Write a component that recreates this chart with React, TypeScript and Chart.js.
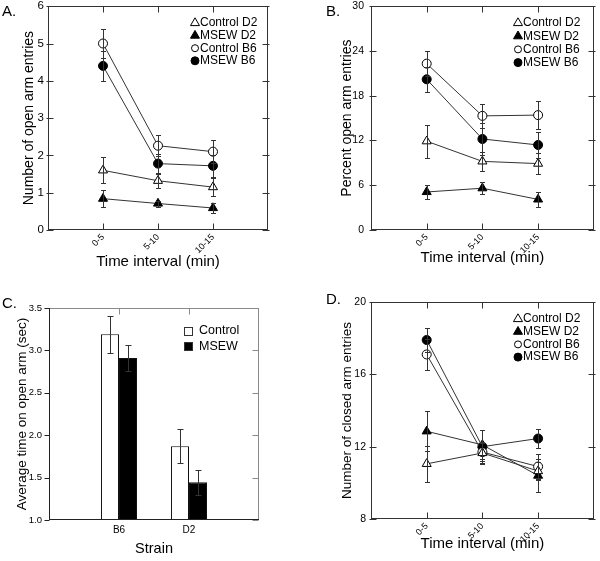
import React, { useEffect, useRef } from 'react';
import { Chart, registerables } from 'chart.js';

Chart.register(...registerables);

const FONT = "'Liberation Sans', Arial, Helvetica, sans-serif";
Chart.defaults.font.family = FONT;
Chart.defaults.color = '#000';

// ---------------- data ----------------
const timeIntervals = ['0-5', '5-10', '10-15'];
const groupLabels = ['Control D2', 'MSEW D2', 'Control B6', 'MSEW B6'];

// A. Number of open arm entries
const openEntriesControlD2 = [1.6, 1.32, 1.15];
const openEntriesMsewD2 = [0.84, 0.71, 0.59];
const openEntriesControlB6 = [5.0, 2.26, 2.1];
const openEntriesMsewB6 = [4.4, 1.78, 1.72];
const openEntriesControlD2Err = [0.35, 0.2, 0.25];
const openEntriesMsewD2Err = [0.22, 0.08, 0.13];
const openEntriesControlB6Err = [0.38, 0.28, 0.31];
const openEntriesMsewB6Err = [0.41, 0.27, 0.3];

// B. Percent open arm entries
const percentOpenControlD2 = [11.9, 9.2, 8.9];
const percentOpenMsewD2 = [5.1, 5.6, 4.1];
const percentOpenControlB6 = [22.3, 15.3, 15.4];
const percentOpenMsewB6 = [20.2, 12.2, 11.4];
const percentOpenControlD2Err = [2.2, 1.3, 1.4];
const percentOpenMsewD2Err = [0.95, 0.8, 1.0];
const percentOpenControlB6Err = [1.7, 1.6, 1.9];
const percentOpenMsewB6Err = [1.65, 2.2, 1.8];

// C. Average time on open arm (sec)
const strains = ['B6', 'D2'];
const treatments = ['Control', 'MSEW'];
const timeOpenControl = [3.19, 1.87];
const timeOpenMsew = [2.91, 1.445];
const timeOpenControlErr = [0.22, 0.2];
const timeOpenMsewErr = [0.15, 0.145];

// D. Number of closed arm entries
const closedEntriesControlD2 = [11.05, 11.65, 10.65];
const closedEntriesMsewD2 = [12.85, 12.1, 10.4];
const closedEntriesControlB6 = [17.1, 11.7, 10.9];
const closedEntriesMsewB6 = [17.9, 12.0, 12.45];
const closedEntriesControlD2Err = [1.0, 0.6, 0.5];
const closedEntriesMsewD2Err = [1.1, 0.8, 0.9];
const closedEntriesControlB6Err = [0.85, 0.5, 0.7];
const closedEntriesMsewB6Err = [0.65, 0.9, 0.5];

// ---------------- styles ----------------
const markerShapes = ['triangle', 'triangle', 'circle', 'circle'];
const markerFills = ['#ffffff', '#000000', '#ffffff', '#000000'];

// ---------------- helpers ----------------
function drawMarker(ctx: CanvasRenderingContext2D, shape: string, x: number, y: number, r: number, fill: string) {
  ctx.beginPath();
  if (shape === 'triangle') {
    ctx.moveTo(x, y - r);
    ctx.lineTo(x + r * 0.866, y + r * 0.5);
    ctx.lineTo(x - r * 0.866, y + r * 0.5);
    ctx.closePath();
  } else {
    ctx.arc(x, y, r, 0, Math.PI * 2);
  }
  ctx.fillStyle = fill;
  ctx.fill();
  ctx.strokeStyle = '#000';
  ctx.lineWidth = 1;
  ctx.stroke();
}

function framePlugin(f: any) {
  return {
    id: 'frame',
    afterDatasetsDraw(chart: any) {
      const { ctx, chartArea: a, scales } = chart;
      const xs = scales.x;
      const ys = scales.y;
      const L = Math.round(a.left) + 0.5;
      const R = Math.round(a.right) - 0.5;
      const T = Math.round(a.top) + 0.5;
      const B = Math.round(a.bottom) - 0.5;
      ctx.save();
      ctx.lineWidth = 1;
      const seg = (color: string, x1: number, y1: number, x2: number, y2: number) => {
        ctx.strokeStyle = color;
        ctx.beginPath();
        ctx.moveTo(x1, y1);
        ctx.lineTo(x2, y2);
        ctx.stroke();
      };
      ys.ticks.forEach((_t: any, i: number) => {
        const py = Math.round(ys.getPixelForTick(i)) + 0.5;
        if (f.leftIn || f.leftOut) seg(f.left, L - f.leftOut, py, L + f.leftIn, py);
        if (f.rightIn || f.rightOut) seg(f.right, R - f.rightIn, py, R + f.rightOut, py);
      });
      xs.ticks.forEach((_t: any, i: number) => {
        const px = Math.round(xs.getPixelForTick(i)) + 0.5;
        if (f.topIn) seg(f.top, px, T, px, T + f.topIn);
        if (f.bottomIn) seg(f.bottom, px, B, px, B - f.bottomIn);
      });
      seg(f.top, L - 0.5, T, R + 0.5, T);
      seg(f.right, R, T, R, B + 0.5);
      seg(f.left, L, T - 0.5, L, B + 0.5);
      seg(f.bottom, L - 0.5, B, R + 0.5, B);
      ctx.restore();
    },
  };
}

function errorBarPlugin(errors: number[][], cap: number, color: string) {
  return {
    id: 'errorBars',
    afterDatasetsDraw(chart: any) {
      const { ctx } = chart;
      const ys = chart.scales.y;
      ctx.save();
      ctx.strokeStyle = color;
      ctx.lineWidth = 1;
      chart.data.datasets.forEach((ds: any, di: number) => {
        const meta = chart.getDatasetMeta(di);
        meta.data.forEach((el: any, i: number) => {
          const val = ds.data[i].y;
          const e = errors[di][i];
          const px = Math.round(el.x) + 0.5;
          const yt = Math.round(ys.getPixelForValue(val + e)) + 0.5;
          const yb = Math.round(ys.getPixelForValue(val - e)) + 0.5;
          ctx.beginPath();
          ctx.moveTo(px, yt);
          ctx.lineTo(px, yb);
          ctx.moveTo(px - cap, yt);
          ctx.lineTo(px + cap, yt);
          ctx.moveTo(px - cap, yb);
          ctx.lineTo(px + cap, yb);
          ctx.stroke();
        });
      });
      ctx.restore();
    },
  };
}

function markerLegendPlugin(lg: any) {
  return {
    id: 'markerLegend',
    afterDraw(chart: any) {
      const ctx = chart.ctx;
      ctx.save();
      ctx.font = `${lg.size}px ${FONT}`;
      ctx.textBaseline = 'middle';
      chart.data.datasets.forEach((ds: any, i: number) => {
        const y = lg.y + i * lg.dy;
        const shape = markerShapes[i];
        drawMarker(ctx, shape, lg.symX, y, shape === 'triangle' ? 5.2 : markerFills[i] === '#000000' ? 4 : 3.5, markerFills[i]);
        ctx.fillStyle = '#000';
        ctx.fillText(ds.label, lg.textX, y);
      });
      ctx.restore();
    },
  };
}

function boxLegendPlugin(lg: any) {
  return {
    id: 'boxLegend',
    afterDraw(chart: any) {
      const ctx = chart.ctx;
      ctx.save();
      ctx.font = `${lg.size}px ${FONT}`;
      ctx.textBaseline = 'middle';
      chart.data.datasets.forEach((ds: any, i: number) => {
        const y = lg.y + i * lg.dy;
        ctx.fillStyle = ds.backgroundColor;
        ctx.fillRect(lg.boxX, Math.round(y - 4.5), 9, 9);
        ctx.strokeStyle = '#333';
        ctx.lineWidth = 1;
        ctx.strokeRect(lg.boxX + 0.5, Math.round(y - 4.5) + 0.5, 8, 8);
        ctx.fillStyle = '#000';
        ctx.fillText(ds.label, lg.textX, y);
      });
      ctx.restore();
    },
  };
}

function yScale(p: any) {
  return {
    type: 'linear',
    position: 'left',
    min: p.min,
    max: p.max,
    ticks: {
      stepSize: p.step,
      font: { size: p.tickSize },
      color: '#000',
      padding: p.tickPad,
      callback: (v: any) => (p.decimals ? Number(v).toFixed(p.decimals) : String(v)),
    },
    grid: { display: false, drawTicks: false },
    border: { display: false },
    title: {
      display: true,
      text: p.title,
      font: { size: p.titleSize },
      color: '#000',
      padding: { top: p.titlePad, bottom: 0 },
    },
    afterFit: (s: any) => {
      s.width = p.width;
      s.paddingTop = 0;
      s.paddingBottom = 0;
    },
  };
}

function xScale(p: any) {
  return {
    type: 'linear',
    position: 'bottom',
    min: 0,
    max: p.labels.length + 1,
    offset: false,
    afterBuildTicks: (s: any) => {
      s.ticks = p.labels.map((_l: string, i: number) => ({ value: i + 1 }));
    },
    ticks: {
      autoSkip: false,
      minRotation: p.rotation,
      maxRotation: p.rotation,
      font: { size: p.tickSize },
      color: '#000',
      padding: p.tickPad,
      callback: (v: any) => p.labels[Math.round(v) - 1] ?? '',
    },
    grid: { display: false, drawTicks: false, offset: false },
    border: { display: false },
    title: {
      display: true,
      text: p.title,
      font: { size: p.titleSize },
      color: '#000',
      padding: { top: 0, bottom: p.titlePad },
    },
    afterFit: (s: any) => {
      s.height = p.height;
      s.paddingLeft = 0;
      s.paddingRight = 0;
    },
  };
}

function linePanel(p: any) {
  return () => ({
    type: 'line',
    data: {
      datasets: groupLabels.map((label, s) => ({
        label,
        data: p.values[s].map((v: number, i: number) => ({ x: i + 1, y: v })),
        borderColor: '#333',
        borderWidth: 1,
        pointStyle: markerShapes[s],
        pointRadius: markerShapes[s] === 'triangle' ? 5.2 : 4.5,
        pointHoverRadius: markerShapes[s] === 'triangle' ? 5.2 : 4.5,
        pointBackgroundColor: markerFills[s],
        pointBorderColor: '#000',
        pointBorderWidth: 1,
        tension: 0,
        fill: false,
      })),
    },
    options: {
      responsive: false,
      animation: false,
      events: [],
      layout: { padding: { left: 0, top: p.area.top, right: p.W - p.area.right, bottom: 0 } },
      plugins: { legend: { display: false }, tooltip: { enabled: false } },
      scales: {
        x: xScale({
          labels: timeIntervals,
          rotation: 45,
          tickSize: 9,
          tickPad: 2,
          title: 'Time interval (min)',
          titleSize: 15,
          titlePad: p.xTitlePad,
          height: p.H - p.area.bottom,
        }),
        y: yScale({ ...p.y, width: p.area.left }),
      },
    },
    plugins: [
      framePlugin({
        left: '#333', right: '#333', top: '#333', bottom: '#333',
        leftIn: 5, leftOut: 2, rightIn: 5, rightOut: 2, topIn: 6, bottomIn: 6,
      }),
      errorBarPlugin(p.errors, 2.5, '#333'),
      markerLegendPlugin(p.legend),
    ],
  });
}

const makeA = linePanel({
  W: 300, H: 280,
  area: { left: 48, right: 268, top: 6, bottom: 230 },
  values: [openEntriesControlD2, openEntriesMsewD2, openEntriesControlB6, openEntriesMsewB6],
  errors: [openEntriesControlD2Err, openEntriesMsewD2Err, openEntriesControlB6Err, openEntriesMsewB6Err],
  y: { min: 0, max: 6, step: 1, tickSize: 11.5, tickPad: 4, title: 'Number of open arm entries', titleSize: 14, titlePad: 20.5 },
  xTitlePad: 9,
  legend: { symX: 195, textX: 200, y: 23, dy: 12.6, size: 12 },
});

const makeB = linePanel({
  W: 300, H: 280,
  area: { left: 71, right: 295, top: 5, bottom: 230 },
  values: [percentOpenControlD2, percentOpenMsewD2, percentOpenControlB6, percentOpenMsewB6],
  errors: [percentOpenControlD2Err, percentOpenMsewD2Err, percentOpenControlB6Err, percentOpenMsewB6Err],
  y: { min: 0, max: 30, step: 6, tickSize: 10.5, tickPad: 7, title: 'Percent open arm entries', titleSize: 14, titlePad: 38.5 },
  xTitlePad: 13,
  legend: { symX: 218, textX: 223, y: 23, dy: 13.2, size: 12 },
});

const makeD = linePanel({
  W: 300, H: 281,
  area: { left: 71, right: 295, top: 22, bottom: 239 },
  values: [closedEntriesControlD2, closedEntriesMsewD2, closedEntriesControlB6, closedEntriesMsewB6],
  errors: [closedEntriesControlD2Err, closedEntriesMsewD2Err, closedEntriesControlB6Err, closedEntriesMsewB6Err],
  y: { min: 8, max: 20, step: 4, tickSize: 10.5, tickPad: 5, title: 'Number of closed arm entries', titleSize: 13.5, titlePad: 39 },
  xTitlePad: 8,
  legend: { symX: 218, textX: 223, y: 39, dy: 12.7, size: 12 },
});

const makeC = () => {
  const W = 300;
  const H = 281;
  const area = { left: 49, right: 259, top: 28, bottom: 240 };
  const barValues = [timeOpenControl, timeOpenMsew];
  const barErrors = [timeOpenControlErr, timeOpenMsewErr];
  return {
    type: 'bar',
    data: {
      datasets: treatments.map((label, s) => ({
        label,
        data: barValues[s].map((v, i) => ({ x: i + 1, y: v })),
        backgroundColor: s === 0 ? '#ffffff' : '#000000',
        borderColor: '#111',
        borderWidth: 1,
        categoryPercentage: 0.515,
        barPercentage: 1,
      })),
    },
    options: {
      responsive: false,
      animation: false,
      events: [],
      layout: { padding: { left: 0, top: area.top, right: W - area.right, bottom: 0 } },
      plugins: { legend: { display: false }, tooltip: { enabled: false } },
      scales: {
        x: xScale({
          labels: strains,
          rotation: 0,
          tickSize: 10,
          tickPad: 4,
          title: 'Strain',
          titleSize: 14.5,
          titlePad: 3,
          height: H - area.bottom,
        }),
        y: yScale({
          min: 1, max: 3.5, step: 0.5, decimals: 1, tickSize: 9.5, tickPad: 7,
          title: 'Average time on open arm (sec)', titleSize: 13.5, titlePad: 14.5, width: area.left,
        }),
      },
    },
    plugins: [
      framePlugin({
        left: '#222', bottom: '#222', top: '#8a8a8a', right: '#8a8a8a',
        leftIn: 0, leftOut: 5, rightIn: 6, rightOut: 0, topIn: 6, bottomIn: 0,
      }),
      errorBarPlugin(barErrors, 3, '#333'),
      boxLegendPlugin({ boxX: 184, textX: 199, y: 51, dy: 15.5, size: 12.5 }),
    ],
  };
};

function ChartCanvas({ make, left, top, width, height }: any) {
  const ref = useRef<HTMLCanvasElement | null>(null);
  useEffect(() => {
    const chart = new Chart(ref.current as HTMLCanvasElement, make());
    return () => chart.destroy();
  }, [make]);
  return (
    <canvas
      ref={ref}
      width={width}
      height={height}
      style={{ position: 'absolute', left, top, width, height, display: 'block' }}
    />
  );
}

const panelLabel = (text: string, left: number, top: number) => (
  <div
    style={{
      position: 'absolute',
      left,
      top,
      font: `15px ${FONT}`,
      lineHeight: '15px',
      color: '#000',
      whiteSpace: 'nowrap',
    }}
  >
    {text}
  </div>
);

export default function App() {
  return (
    <div
      style={{
        position: 'absolute',
        left: 0,
        top: 0,
        width: 600,
        height: 561,
        background: '#fff',
        overflow: 'hidden',
      }}
    >
      <ChartCanvas make={makeA} left={0} top={0} width={300} height={280} />
      <ChartCanvas make={makeB} left={300} top={0} width={300} height={280} />
      <ChartCanvas make={makeC} left={0} top={280} width={300} height={281} />
      <ChartCanvas make={makeD} left={300} top={280} width={300} height={281} />
      {panelLabel('A.', 2, 3)}
      {panelLabel('B.', 326, 3)}
      {panelLabel('C.', 2, 295)}
      {panelLabel('D.', 326, 291)}
    </div>
  );
}
